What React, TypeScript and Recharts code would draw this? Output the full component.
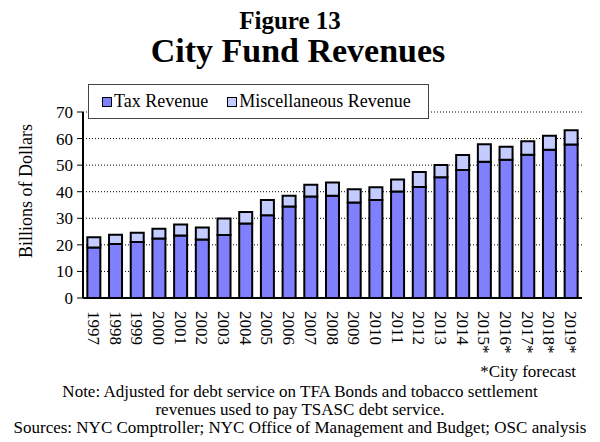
import React from 'react';
import { BarChart, Bar, XAxis, YAxis, CartesianGrid, Legend } from 'recharts';

// fiscal years, * = city forecast
const years = [
  '1997', '1998', '1999', '2000', '2001', '2002', '2003', '2004', '2005', '2006', '2007', '2008',
  '2009', '2010', '2011', '2012', '2013', '2014', '2015*', '2016*', '2017*', '2018*', '2019*',
];
// billions of dollars
const taxRevenue = [
  19.0, 20.3, 21.1, 22.4, 23.5, 22.0, 23.7, 28.0, 31.1, 34.4, 38.2, 38.5,
  35.9, 36.9, 40.1, 41.8, 45.4, 48.2, 51.3, 52.0, 53.9, 55.8, 57.8,
];
const miscRevenue = [
  3.9, 3.5, 3.5, 3.7, 4.2, 4.5, 6.2, 4.4, 5.8, 4.1, 4.4, 5.0,
  5.0, 4.8, 4.5, 5.6, 4.7, 5.6, 6.6, 4.9, 5.1, 5.3, 5.3,
];
const yTicks = [0, 10, 20, 30, 40, 50, 60, 70];

const data = years.map((year, i) => ({ year, tax: taxRevenue[i], misc: miscRevenue[i] }));

const FONT = '"Liberation Serif", "Times New Roman", serif';
const TAX_COLOR = '#8080FF';
const MISC_COLOR = '#C4CBFF';

const YearTick = (props: any) => {
  const { x, y, payload } = props;
  return (
    <text
      transform={`translate(${x - 6},${y + 5}) rotate(90)`}
      textAnchor="start"
      fontSize={17}
      fontFamily={FONT}
      fill="#000"
    >
      {payload.value}
    </text>
  );
};

const LegendBox = () => {
  const item = (color: string, label: string, gap: number) => (
    <span style={{ display: 'inline-flex', alignItems: 'center', marginRight: gap }}>
      <span
        style={{
          display: 'inline-block',
          width: 8,
          height: 8,
          background: color,
          border: '1.5px solid #000',
          marginRight: 2,
        }}
      />
      {label}
    </span>
  );
  return (
    <div
      style={{
        width: 326,
        height: 33,
        border: '1px solid #444',
        background: '#fff',
        fontFamily: FONT,
        fontSize: 18,
        color: '#000',
        display: 'flex',
        alignItems: 'center',
        paddingLeft: 13,
        boxSizing: 'content-box',
        whiteSpace: 'nowrap',
      }}
    >
      {item(TAX_COLOR, 'Tax Revenue', 19)}
      {item(MISC_COLOR, 'Miscellaneous Revenue', 0)}
    </div>
  );
};

export default function App() {
  return (
    <div
      style={{
        position: 'fixed',
        left: 0,
        top: 0,
        width: 600,
        height: 442,
        background: '#fff',
        fontFamily: FONT,
        color: '#000',
        overflow: 'hidden',
      }}
    >
      <div style={{ position: 'absolute', top: 8, width: 580, textAlign: 'center', fontSize: 25, fontWeight: 'bold', lineHeight: 1 }}>
        Figure 13
      </div>
      <div style={{ position: 'absolute', top: 34, width: 596, textAlign: 'center', fontSize: 34, fontWeight: 'bold', lineHeight: 1 }}>
        City Fund Revenues
      </div>
      <div
        style={{
          position: 'absolute',
          left: 26,
          top: 191,
          transform: 'translate(-50%, -50%) rotate(-90deg)',
          whiteSpace: 'nowrap',
          fontSize: 18,
        }}
      >
        Billions of Dollars
      </div>

      <div style={{ position: 'absolute', left: 0, top: 0 }}>
        <BarChart
          width={600}
          height={442}
          data={data}
          margin={{ top: 77, right: 18, left: 0, bottom: 84 }}
          barCategoryGap="20%"
        >
          <CartesianGrid vertical={false} stroke="#000" strokeDasharray="1 2" />
          <XAxis
            dataKey="year"
            interval={0}
            height={60}
            tick={<YearTick />}
            tickLine={false}
            axisLine={{ stroke: '#000', strokeWidth: 2 }}
          />
          <XAxis xAxisId="top" dataKey="year" orientation="top" height={0} tick={false} tickLine={false} axisLine={{ stroke: '#333' }} />
          <YAxis
            width={83}
            domain={[0, 70]}
            ticks={yTicks}
            interval={0}
            tickSize={6}
            tickMargin={4}
            tick={{ fontSize: 17, fontFamily: FONT, fill: '#000' }}
            tickLine={{ stroke: '#000' }}
            axisLine={{ stroke: '#000', strokeWidth: 2 }}
          />
          <YAxis yAxisId="right" orientation="right" width={0} domain={[0, 70]} tick={false} tickLine={false} axisLine={{ stroke: '#333' }} />
          <Legend
            content={<LegendBox />}
            verticalAlign="top"
            align="left"
            wrapperStyle={{ position: 'absolute', left: 88, top: 84, width: 'auto' }}
          />
          <Bar dataKey="tax" stackId="rev" fill={TAX_COLOR} stroke="#000" strokeWidth={2} isAnimationActive={false} />
          <Bar dataKey="misc" stackId="rev" fill={MISC_COLOR} stroke="#000" strokeWidth={2} isAnimationActive={false} />
        </BarChart>
      </div>

      <div style={{ position: 'absolute', right: 24, top: 362, fontSize: 17 }}>*City forecast</div>
      <div style={{ position: 'absolute', top: 383, width: 600, textAlign: 'center', fontSize: 17, lineHeight: '18px' }}>
        Note: Adjusted for debt service on TFA Bonds and tobacco settlement
        <br />
        revenues used to pay TSASC debt service.
        <br />
        Sources: NYC Comptroller; NYC Office of Management and Budget; OSC analysis
      </div>
    </div>
  );
}
